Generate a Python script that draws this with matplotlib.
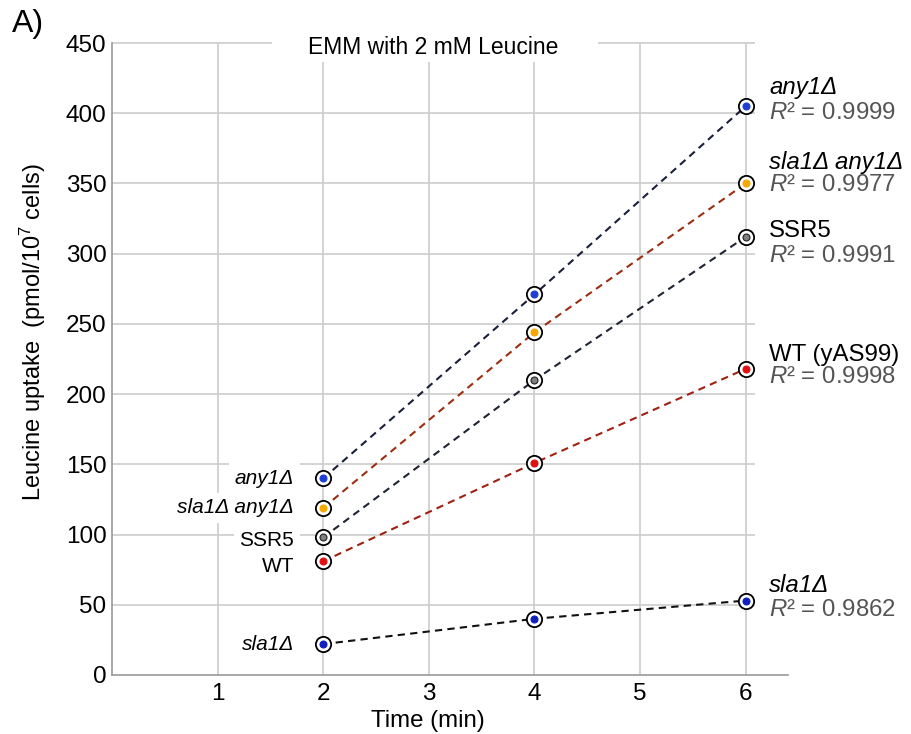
"""
Leucine uptake over time, EMM with 2 mM Leucine.
"""
import matplotlib
matplotlib.use('Agg')
import matplotlib.pyplot as plt
from matplotlib.patches import Rectangle

plt.rcParams['font.family'] = ['Liberation Sans', 'DejaVu Sans']
plt.rcParams['mathtext.fontset'] = 'custom'
plt.rcParams['mathtext.rm'] = 'Liberation Sans'
plt.rcParams['mathtext.it'] = 'Liberation Sans:italic'

# data
time = [2, 4, 6]
any1 = [140, 271, 405]
sla1_any1 = [119, 244, 350]
ssr5 = [98, 210, 312]
wt = [81, 151, 218]
sla1 = [22, 40, 53]

series = [any1, sla1_any1, ssr5, wt, sla1]
names_right = ['any1Δ', 'sla1Δ any1Δ', 'SSR5', 'WT (yAS99)', 'sla1Δ']
names_left = ['any1Δ', 'sla1Δ any1Δ', 'SSR5', 'WT', 'sla1Δ']
italic = [True, True, False, False, True]
r2 = ['0.9999', '0.9977', '0.9991', '0.9998', '0.9862']
line_colors = ['#1a1f3a', '#9b2d10', '#1f2433', '#a02010', '#111111']
dot_colors = ['#1f3fd0', '#f5a800', '#808080', '#e01010', '#1020c0']
yticks = list(range(0, 451, 50))

# label layout (data y for the text next to the last point)
name_y = [418, 365, 316, 228, 64]
r2_y = [400, 349, 298, 212, 46]
left_dy = [0, 0, -2, -4, 0]

fig = plt.figure(figsize=(9.12, 7.34), dpi=100)
ax = fig.add_axes([0.1228, 0.0804, 0.7412, 0.861])

# grid: horizontal lines stop short of the right-hand labels
ax.grid(True, axis='x', color='#cccccc', linewidth=1.2, zorder=0.5)
ax.hlines(yticks[1:], 0, 6.09, color='#cccccc', linewidth=1.2, zorder=0.5, clip_on=False)
ax.set_axisbelow(True)

for i, s in enumerate(series):
    ax.plot(time, s, linestyle=(0, (3.5, 2.5)), color=line_colors[i], linewidth=1.5, zorder=2)
    ax.plot(time, s, linestyle='none', marker='o', markersize=11, markerfacecolor='white',
            markeredgecolor='black', markeredgewidth=1.3, zorder=3)
    ax.plot(time, s, linestyle='none', marker='o', markersize=5, markerfacecolor=dot_colors[i],
            markeredgecolor='#222222' if i == 2 else dot_colors[i], markeredgewidth=0.8, zorder=4)

    style = 'italic' if italic[i] else 'normal'
    ax.text(6.22, name_y[i], names_right[i], fontsize=17.3, style=style, color='black',
            va='center', ha='left', zorder=5)
    ax.text(6.22, r2_y[i], r'$\mathit{R}$² = ' + r2[i], fontsize=17.3, color='#555555',
            va='center', ha='left', zorder=5)
    ax.annotate(names_left[i], xy=(time[0], s[0] + left_dy[i]), xytext=(-21, 0),
                textcoords='offset points', fontsize=15, style=style,
                ha='right', va='center', color='black', zorder=1.5,
                bbox=dict(facecolor='white', edgecolor='none', pad=4))

ax.set_xlim(0, 6.4)
ax.set_ylim(0, 450)
ax.set_xticks([1, 2, 3, 4, 5, 6])
ax.set_yticks(yticks)
ax.tick_params(axis='both', length=0, labelsize=17.5)
ax.tick_params(axis='y', pad=4)
ax.tick_params(axis='x', pad=6)
for side in ['top', 'right']:
    ax.spines[side].set_visible(False)
for side in ['left', 'bottom']:
    ax.spines[side].set_color('#999999')
    ax.spines[side].set_linewidth(1.2)

ax.set_xlabel('Time (min)', fontsize=17.3, labelpad=4)
ax.xaxis.set_label_coords(0.467, -0.055)
ax.set_ylabel(r'Leucine uptake  (pmol/10$^{7}$ cells)', fontsize=17, labelpad=10)
ax.yaxis.set_label_coords(-0.095, 0.543)

# title sits in a white box over the top gridline
ax.add_patch(Rectangle((1.515, 436.6), 3.085, 29.9, facecolor='white', edgecolor='none',
                       zorder=1, clip_on=False))
ax.text(3.04, 447, 'EMM with 2 mM Leucine', fontsize=16.5, ha='center', va='center', zorder=5)
fig.text(0.013, 0.988, 'A)', fontsize=23, ha='left', va='top')

fig.savefig('out.png', dpi=100)
